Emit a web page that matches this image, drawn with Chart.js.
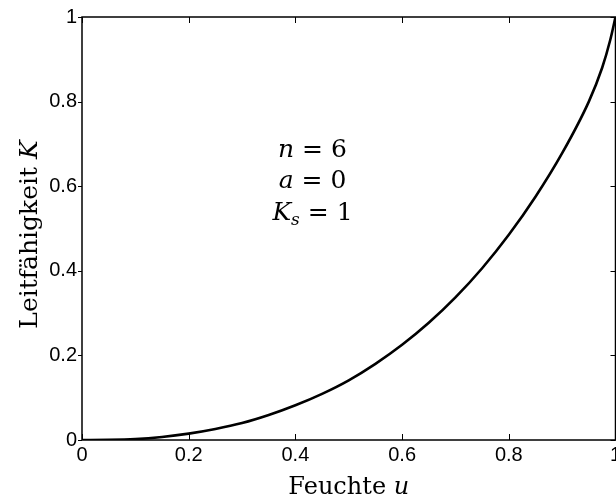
<!DOCTYPE html>
<html>
<head>
<meta charset="utf-8">
<script src="https://cdn.jsdelivr.net/npm/chart.js@4/dist/chart.umd.min.js"></script>
<style>
    html, body { margin: 0; padding: 0; background: #fff; overflow: hidden; }
    #wrap { width: 640px; height: 502px; }
</style>
</head>
<body>
<div id="wrap"><canvas id="conductivityChart"></canvas></div>
<script>
// Leitfähigkeit K über Feuchte u
const moisture     = [0, 0.05, 0.1, 0.15, 0.2, 0.25, 0.3, 0.35, 0.4, 0.45, 0.5, 0.55, 0.6, 0.65, 0.7, 0.75, 0.8, 0.85, 0.9, 0.95, 0.975, 0.99, 1];
const conductivity = [0, 0.0003, 0.002, 0.007, 0.015, 0.026, 0.040, 0.059, 0.082, 0.109, 0.141, 0.180, 0.225, 0.277, 0.337, 0.406, 0.485, 0.575, 0.678, 0.800, 0.880, 0.945, 1];

const xTicks = [0, 0.2, 0.4, 0.6, 0.8, 1];
const yTicks = [0, 0.2, 0.4, 0.6, 0.8, 1];

// parameter box: [segments], each segment = [text, italic, subscript]
const paramLines = [
    [['n', true, false], [' = 6', false, false]],
    [['a', true, false], [' = 0', false, false]],
    [['K', true, false], ['s', true, true], [' = 1', false, false]]
];
const paramU = 0.432;
const paramK = [0.669, 0.595, 0.521];

const serif = "'DejaVu Serif', serif";
const tickFont = { family: "'Liberation Sans', Arial, sans-serif", size: 20 };

// box around the plot with MATLAB-style ticks
const framePlugin = {
    id: 'frame',
    afterDatasetsDraw(chart) {
        const { ctx, chartArea: a, scales } = chart;
        ctx.save();
        ctx.strokeStyle = '#000';
        ctx.lineWidth = 1.5;
        ctx.strokeRect(a.left, a.top, a.right - a.left, a.bottom - a.top);
        ctx.lineWidth = 1;
        ctx.beginPath();
        xTicks.forEach(v => {
            const px = Math.round(scales.x.getPixelForValue(v)) + 0.5;
            ctx.moveTo(px, a.bottom); ctx.lineTo(px, a.bottom - 6);
            ctx.moveTo(px, a.top); ctx.lineTo(px, a.top + 6);
        });
        yTicks.forEach(v => {
            const py = Math.round(scales.y.getPixelForValue(v)) + 0.5;
            ctx.moveTo(a.left - 4, py); ctx.lineTo(a.left, py);
            ctx.moveTo(a.right, py); ctx.lineTo(a.right - 5, py);
        });
        ctx.stroke();
        ctx.restore();
    },
    afterDraw(chart) {
        const { ctx, chartArea: a, scales } = chart;
        ctx.save();
        ctx.fillStyle = '#000';
        ctx.textBaseline = 'alphabetic';

        // parameter text
        const cx = scales.x.getPixelForValue(paramU);
        paramLines.forEach((line, i) => {
            const by = scales.y.getPixelForValue(paramK[i]);
            const parts = line.map(([t, it, sub]) => {
                const f = (it ? 'italic ' : '') + (sub ? 17 : 25) + 'px ' + serif;
                ctx.font = f;
                return { t, f, sub, w: ctx.measureText(t).width };
            });
            let x = cx - parts.reduce((s, p) => s + p.w, 0) / 2;
            parts.forEach(p => {
                ctx.font = p.f;
                ctx.textAlign = 'left';
                ctx.fillText(p.t, x, by + (p.sub ? 5 : 0));
                x += p.w;
            });
        });

        // axis titles, upright text with an italic symbol
        const drawTitle = (segs, size) => {
            const parts = segs.map(([t, it]) => {
                ctx.font = (it ? 'italic ' : '') + size + 'px ' + serif;
                return { t, f: ctx.font, w: ctx.measureText(t).width };
            });
            let x = -parts.reduce((s, p) => s + p.w, 0) / 2;
            parts.forEach(p => {
                ctx.font = p.f;
                ctx.textAlign = 'left';
                ctx.fillText(p.t, x, 0);
                x += p.w;
            });
        };
        ctx.save();
        ctx.translate((a.left + a.right) / 2, 494);
        drawTitle([['Feuchte ', false], ['u', true]], 24);
        ctx.restore();

        ctx.save();
        ctx.translate(37, (a.top + a.bottom) / 2 + 6);
        ctx.rotate(-Math.PI / 2);
        drawTitle([['Leitfähigkeit ', false], ['K', true]], 25);
        ctx.restore();

        ctx.restore();
    }
};

new Chart(document.getElementById('conductivityChart'), {
    type: 'line',
    data: {
        datasets: [{
            data: moisture.map((u, i) => ({ x: u, y: conductivity[i] })),
            borderColor: '#000',
            borderWidth: 2.6,
            pointRadius: 0,
            fill: false,
            cubicInterpolationMode: 'monotone'
        }]
    },
    options: {
        responsive: true,
        maintainAspectRatio: false,
        animation: false,
        devicePixelRatio: 1,
        layout: { padding: { top: 17, right: 24.5, left: 0, bottom: 0 } },
        plugins: { legend: { display: false }, tooltip: { enabled: false } },
        scales: {
            x: {
                type: 'linear',
                min: 0,
                max: 1,
                afterBuildTicks: s => { s.ticks = xTicks.map(v => ({ value: v })); },
                afterFit: s => { s.height = 62; },
                grid: { display: false, drawTicks: false },
                border: { display: false },
                ticks: {
                    color: '#000',
                    font: tickFont,
                    padding: 3,
                    maxRotation: 0,
                    autoSkip: false,
                    callback: v => String(v)
                }
            },
            y: {
                type: 'linear',
                min: 0,
                max: 1,
                afterBuildTicks: s => { s.ticks = yTicks.map(v => ({ value: v })); },
                afterFit: s => { s.width = 82; },
                grid: { display: false, drawTicks: false },
                border: { display: false },
                ticks: {
                    color: '#000',
                    font: tickFont,
                    padding: 5,
                    autoSkip: false,
                    callback: v => String(v)
                }
            }
        }
    },
    plugins: [framePlugin]
});
</script>
</body>
</html>
